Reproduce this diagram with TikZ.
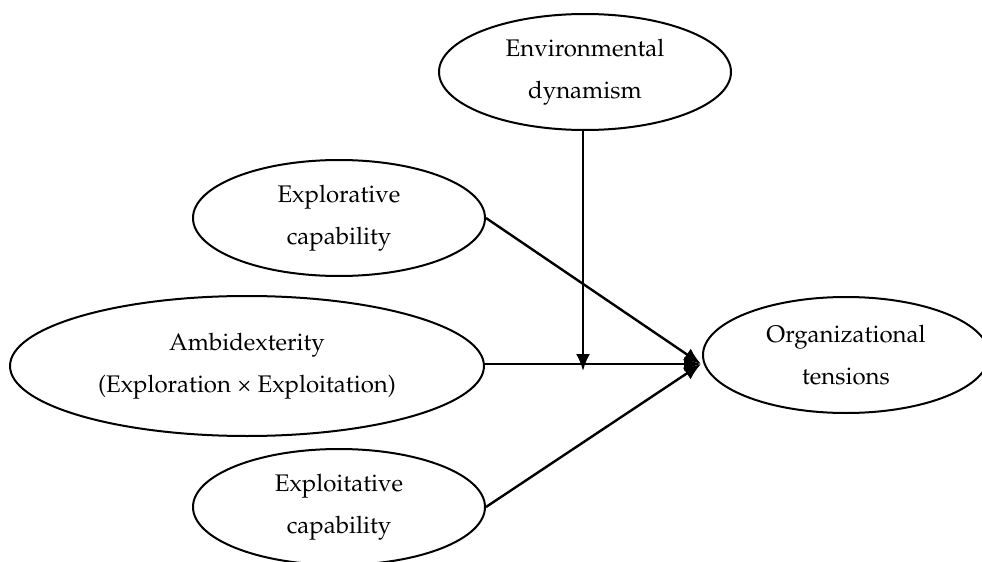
\documentclass[tikz,border=0pt]{standalone}
\usepackage[T1]{fontenc}
\usepackage{mathpazo}
\usetikzlibrary{shapes.geometric,arrows.meta}

\begin{document}
\begin{tikzpicture}[x=0.5pt,y=-0.5pt,
		construct/.style={shape=ellipse,draw=black,line width=1pt,inner sep=0pt,
			minimum width=146pt,minimum height=58pt,align=center,
			font=\fontsize{12}{21}\selectfont,
			execute at begin node=\rule{0pt}{17pt}},
		path/.style={line width=1.2pt,-{Latex[length=8.5pt,width=7pt]}}]
		\useasboundingbox (0,0) rectangle (982,562);
		\clip (0,0) rectangle (982,562);
		
		\node[construct] (Environment) at (585,72) {Environmental\\dynamism};
		\node[construct] (Explorative) at (339,218) {Explorative\\capability};
		\node[construct,minimum width=237pt,minimum height=70pt] (Ambidexterity) at (247,366) {Ambidexterity\\(Exploration \texttimes{} Exploitation)};
		\node[construct] (Exploitative) at (339,507) {Exploitative\\capability};
		\node[construct,minimum width=143pt] (Tensions) at (846,355) {Organizational\\tensions};
		
		\coordinate (Hit) at (701,364);
		\coordinate (Moderate) at (583,371);
		
		\draw[path] (Explorative.east) -- (Hit);
		\draw[path] (Ambidexterity.east |- Hit) -- (Hit);
		\draw[path] (Exploitative.east) -- (Hit);
		\draw[path] (Moderate |- Environment.south) -- (Moderate);
		
	\end{tikzpicture}
\end{document}
